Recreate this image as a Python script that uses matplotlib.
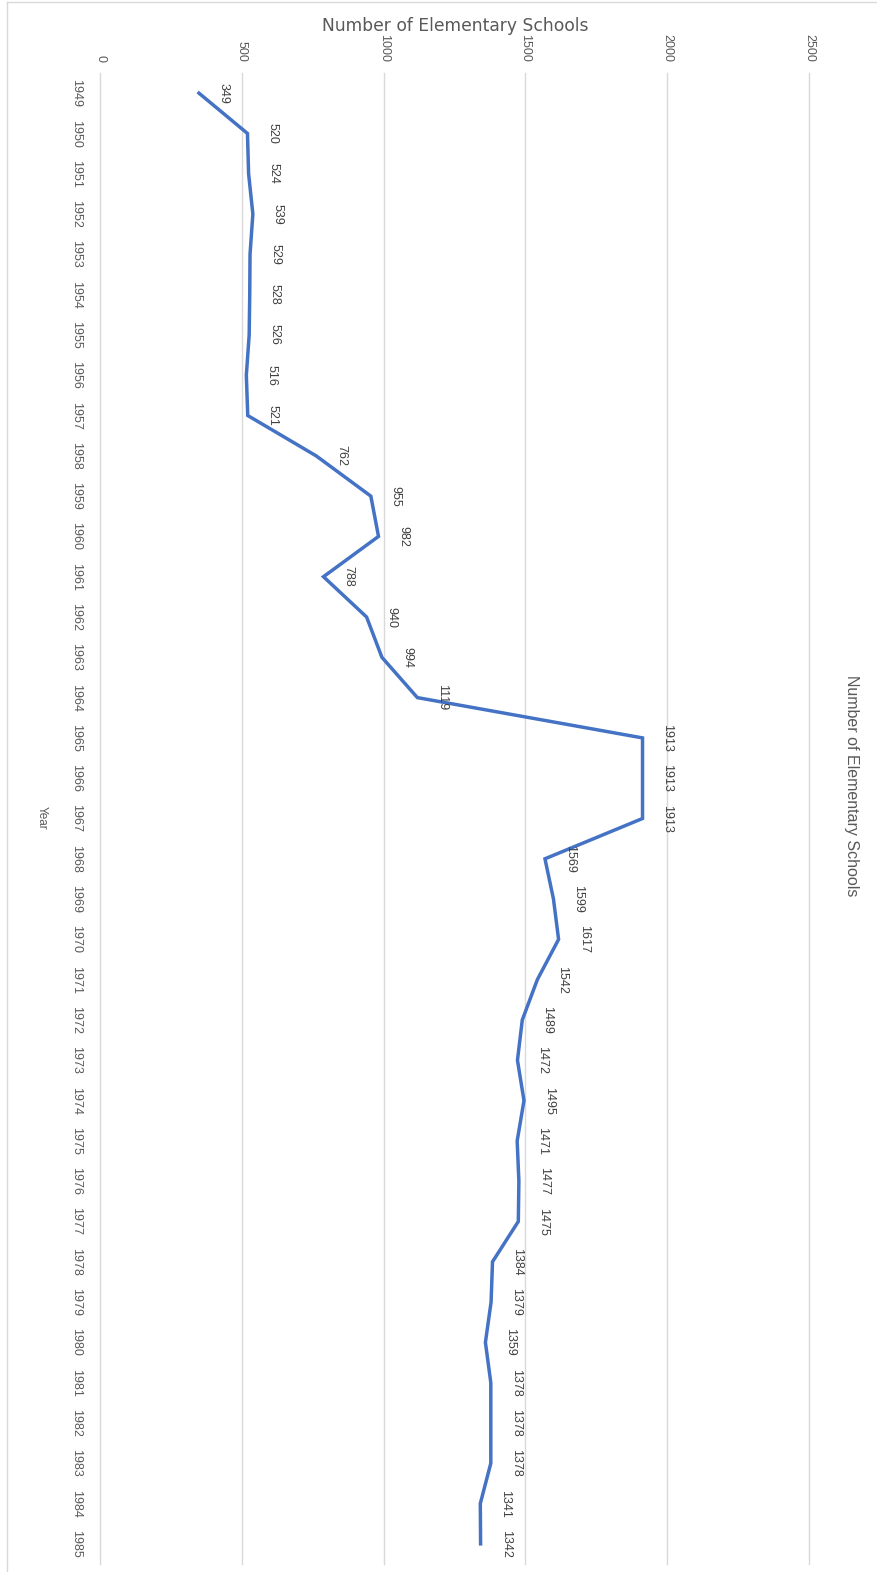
import matplotlib
matplotlib.use("Agg")
import matplotlib.pyplot as plt
from matplotlib.lines import Line2D

# data
years = list(range(1949, 1986))
schools = [349, 520, 524, 539, 529, 528, 526, 516, 521, 762,
           955, 982, 788, 940, 994, 1119, 1913, 1913, 1913, 1569,
           1599, 1617, 1542, 1489, 1472, 1495, 1471, 1477, 1475, 1384,
           1379, 1359, 1378, 1378, 1378, 1341, 1342]
value_ticks = [0, 500, 1000, 1500, 2000, 2500]

narrow = ["Liberation Sans Narrow", "Liberation Sans", "DejaVu Sans"]
W, H = 877, 1572

fig = plt.figure(figsize=(W / 100, H / 100), dpi=100)
# plot area in pixels: x 100..809, y 73..1564
ax = fig.add_axes([100 / W, 1 - 1564 / H, 709 / W, (1564 - 73) / H])

ax.plot(schools, years, color="#4472C4", linewidth=2.5, solid_joinstyle="miter")

ax.set_xlim(0, 2500)
ax.set_ylim(years[-1] + 0.5, years[0] - 0.5)

ax.xaxis.tick_top()
ax.set_xticks(value_ticks)
ax.set_xticklabels([str(v) for v in value_ticks], rotation=-90,
                   family=narrow, fontsize=9, color="#595959")
ax.tick_params(axis="x", length=0, pad=8)

ax.set_yticks(years)
ax.set_yticklabels([str(y) for y in years], rotation=-90, va="center",
                   family=narrow, fontsize=9, color="#595959")
ax.tick_params(axis="y", length=0, pad=13)

ax.grid(axis="x", color="#d9d9d9", linewidth=1)
ax.set_axisbelow(True)
for g in ax.get_xgridlines():
    g.set_clip_on(False)
for s in ax.spines.values():
    s.set_visible(False)

for y, v in zip(years, schools):
    ax.annotate(str(v), (v, y), xytext=(19, 0), textcoords="offset pixels",
                ha="left", va="center", rotation=-90,
                family=narrow, fontsize=9, color="#404040")

# titles
fig.text(455 / W, 1 - 26 / H, "Number of Elementary Schools", ha="center",
         va="center", fontsize=12.3, color="#595959", family="DejaVu Sans")
fig.text(852 / W, 1 - 786 / H, "Number of Elementary Schools", ha="center",
         va="center", rotation=-90, fontsize=11.5, color="#595959", family=narrow)
fig.text(42 / W, 1 - 818 / H, "Year", ha="center", va="center", rotation=-90,
         fontsize=8.5, color="#595959", family=narrow)

# chart border (only left and top visible in the crop)
fig.add_artist(Line2D([7 / W, 7 / W], [0, 1 - 2 / H], transform=fig.transFigure,
                      color="#d9d9d9", linewidth=1))
fig.add_artist(Line2D([7 / W, 1], [1 - 2 / H, 1 - 2 / H], transform=fig.transFigure,
                      color="#d9d9d9", linewidth=1))

fig.savefig("out.png", dpi=100)
